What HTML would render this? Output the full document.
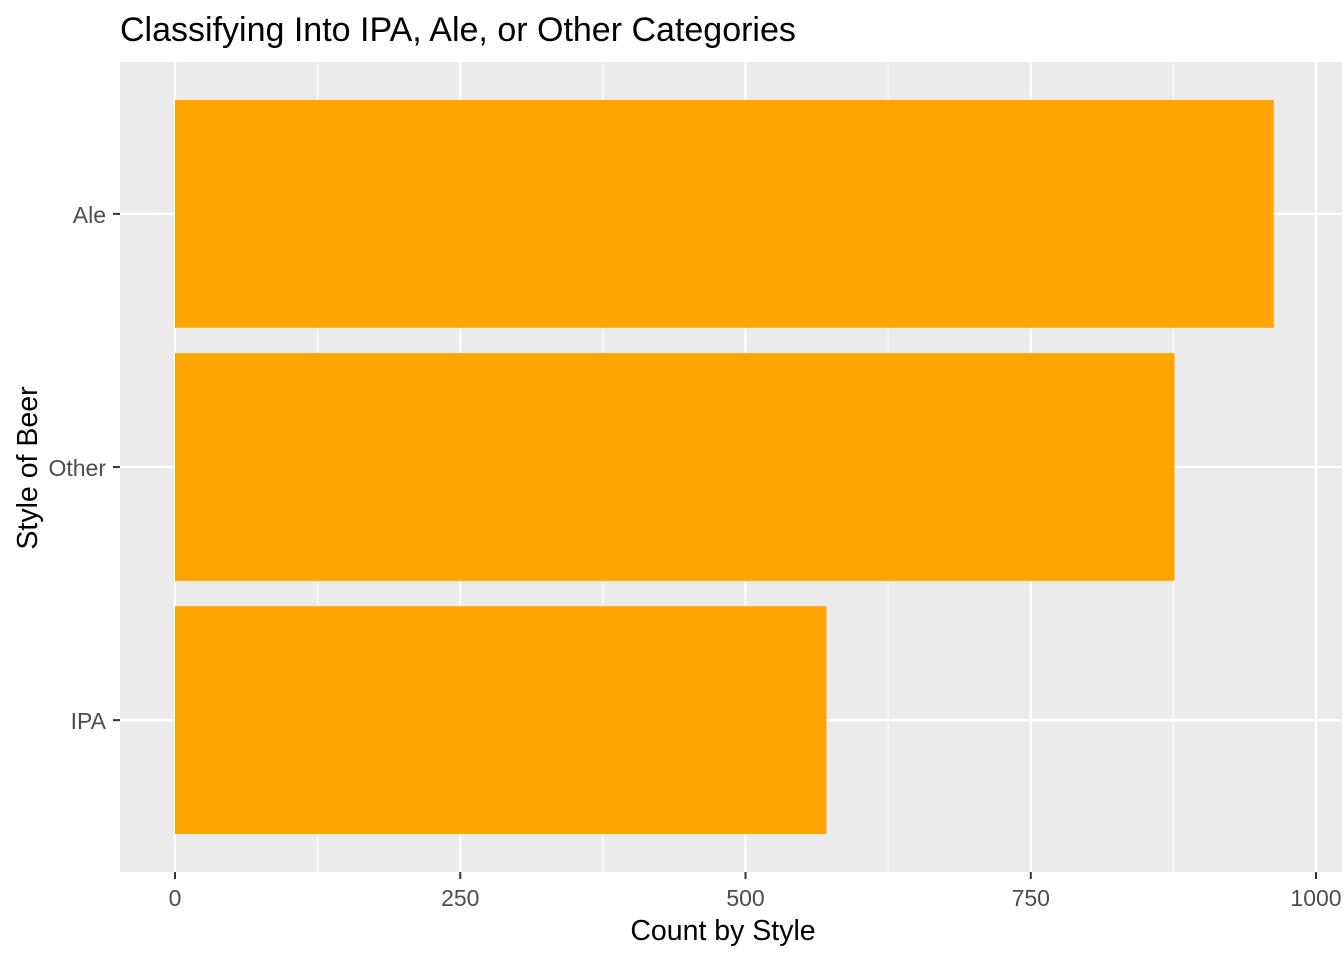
<!DOCTYPE html>
<html><head><meta charset="utf-8"><style>
body{margin:0;background:#fff;}
svg{display:block;font-family:"Liberation Sans",Arial,sans-serif;}
</style></head><body>
<svg id="chart" width="1344" height="960">
<text x="120" y="41" font-size="34" fill="#000">Classifying Into IPA, Ale, or Other Categories</text>
<rect x="120" y="62" width="1222" height="810" fill="#EBEBEB"/>
<g id="grid"></g><g id="bars"></g><g id="axes"></g>
<text x="723" y="940" font-size="28.5" text-anchor="middle" fill="#000">Count by Style</text>
<text transform="translate(37,468) rotate(-90)" font-size="28.5" text-anchor="middle" fill="#000">Style of Beer</text>
</svg>
<script>
const categories=["IPA","Other","Ale"];
const counts=[571,876,963];
const xTicks=[0,250,500,750,1000];
const xMinor=[125,375,625,875];
const ns="http://www.w3.org/2000/svg";
const x0=175,xs=1.141,pTop=62,pBot=872;
function X(v){return x0+v*xs;}
const unit=(pBot-pTop)/(categories.length+0.2);
function Y(i){return pBot-(i+0.6)*unit;}
function mk(tag,attrs,parent){const e=document.createElementNS(ns,tag);for(const k in attrs)e.setAttribute(k,attrs[k]);document.getElementById(parent).appendChild(e);return e;}
xMinor.forEach(v=>{const l=mk('line',{x1:X(v),x2:X(v),y1:pTop,y2:pBot,stroke:'#fff','stroke-width':1.1},'grid');

});
xTicks.forEach(v=>{const l=mk('line',{x1:X(v),x2:X(v),y1:pTop,y2:pBot,stroke:'#fff','stroke-width':2.2},'grid');


const t=mk('line',{x1:X(v),x2:X(v),y1:pBot,y2:pBot+7,stroke:'#333','stroke-width':2},'axes');


const tx=mk('text',{x:X(v),y:906,'font-size':23,'text-anchor':'middle',fill:'#4D4D4D'},'axes');tx.textContent=v;

});
categories.forEach((c,i)=>{const y=Y(i);
const g=mk('line',{x1:120,x2:1342,y1:y,y2:y,stroke:'#fff','stroke-width':2.2},'grid');


const h=unit*0.9;
const b=mk('rect',{x:X(0),y:y-h/2,width:counts[i]*xs,height:h,fill:'#FFA500'},'bars');


const t=mk('line',{x1:113,x2:120,y1:y,y2:y,stroke:'#333','stroke-width':2},'axes');


const tx=mk('text',{x:106,y:y+9,'font-size':23,'text-anchor':'end',fill:'#4D4D4D'},'axes');tx.textContent=c;

});
</script>
</body></html>
